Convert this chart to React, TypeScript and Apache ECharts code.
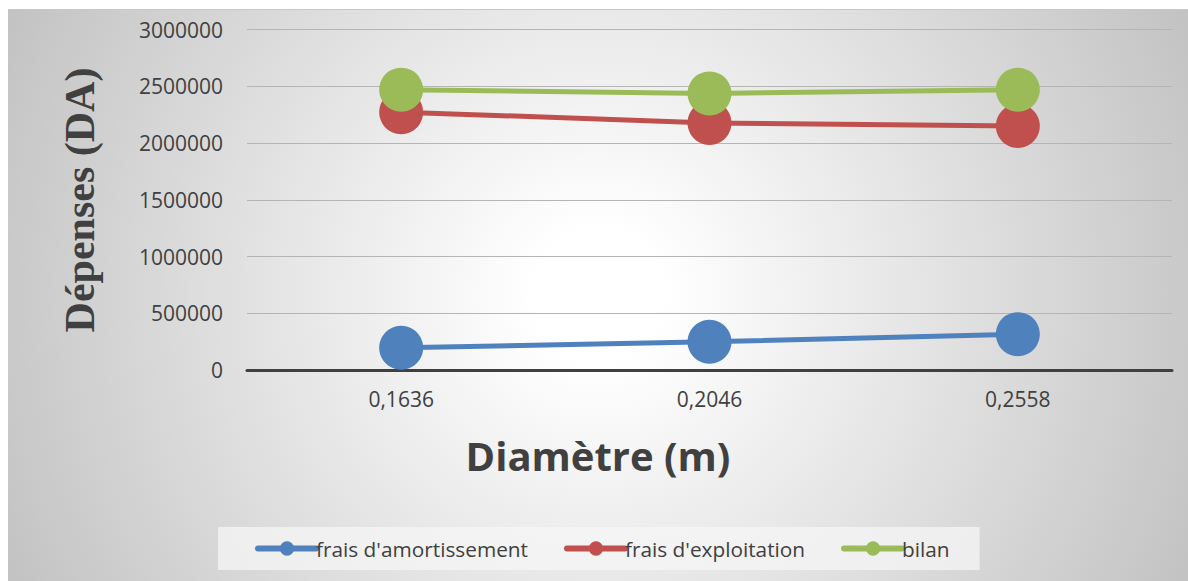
import React, { useEffect, useRef } from "react";
import * as echarts from "echarts";

const categories = ["0,1636", "0,2046", "0,2558"];
const amortissement = [196000, 249000, 316000];
const exploitation = [2272000, 2177000, 2150000];
const bilan = [2470000, 2437000, 2470000];
const seriesNames = ["frais d'amortissement", "frais d'exploitation", "bilan"];
const colors = ["#4f81bd", "#c0504d", "#9bbb59"];
const yTitle = "Dépenses (DA)";
const xTitle = "Diamètre (m)";

export default function App() {
  const ref = useRef<HTMLDivElement>(null);
  useEffect(() => {
    document.body.style.overflow = "hidden";
    const chart = echarts.init(ref.current!, undefined, { renderer: "svg" });
    const values = [amortissement, exploitation, bilan];
    chart.setOption({
      animation: false,
      textStyle: { fontFamily: "Open Sans" },
      grid: { left: 239, right: 16, top: 19.5, bottom: 211 },
      xAxis: {
        type: "category",
        data: categories,
        boundaryGap: true,
        axisLine: { lineStyle: { color: "#404040", width: 3 } },
        axisTick: { show: false },
        axisLabel: { color: "#404040", fontSize: 21, margin: 18, fontFamily: "Open Sans" },
      },
      yAxis: {
        type: "value",
        min: 0,
        max: 3000000,
        interval: 500000,
        axisLine: { show: false },
        axisTick: { show: false },
        splitLine: { lineStyle: { color: "#b5b5b5", width: 1 } },
        axisLabel: {
          color: "#404040",
          fontSize: 21,
          margin: 24,
          fontFamily: "Open Sans",
          formatter: (v: number) => String(v),
        },
      },
      legend: {
        top: 517,
        left: 210,
        data: seriesNames,
        backgroundColor: "rgba(245,245,245,0.75)",
        padding: [11, 30, 11, 37],
        itemGap: 36,
        itemWidth: 58,
        itemHeight: 18,
        lineStyle: { width: 6, cap: "round" },
        textStyle: { color: "#404040", fontSize: 20.8, fontFamily: "Open Sans", padding: [0, 0, 0, -5] },
      },
      graphic: [
        {
          type: "text",
          left: "center",
          top: 425,
          style: {
            text: xTitle,
            fill: "#404040",
            font: "bold 40px 'Open Sans'",
          },
        },
        {
          type: "text",
          x: 72,
          y: 190,
          rotation: Math.PI / 2,
          style: {
            text: yTitle,
            fill: "#404040",
            font: "bold 42px 'Liberation Serif'",
            align: "center",
            verticalAlign: "middle",
          },
        },
      ],
      series: values.map((v, i) => ({
        name: seriesNames[i],
        type: "line",
        data: v,
        symbol: "circle",
        symbolSize: 44,
        lineStyle: { width: 5, color: colors[i], cap: "round" },
        itemStyle: { color: colors[i] },
      })),
    });
    return () => chart.dispose();
  }, []);
  return (
    <div
      ref={ref}
      style={{
        position: "absolute",
        left: 8,
        top: 9,
        width: 1180,
        height: 572,
        background:
          "radial-gradient(circle 660px at 50% 50%, #ffffff 0%, #ffffff 10%, #c2c2c2 100%)",
        borderTop: "1px solid #c8c8c8",
        boxSizing: "border-box",
      }}
    />
  );
}
